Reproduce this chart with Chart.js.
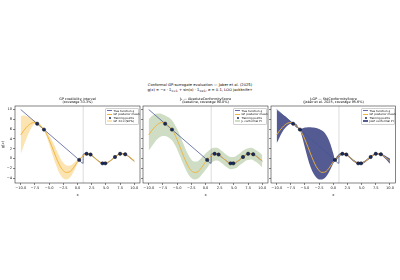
<!DOCTYPE html>
<html><head><meta charset="utf-8">
<script src="https://cdn.jsdelivr.net/npm/chart.js@4"></script>
<style>
html,body{margin:0;padding:0;background:#fff;}
#wrap{position:relative;width:400px;height:280px;overflow:hidden;font-family:"DejaVu Sans",sans-serif;color:#000;}
canvas{position:absolute;left:0;top:0;}
.t{position:absolute;white-space:nowrap;transform:translate(-50%,-50%);text-align:center;line-height:1;}
.leg{position:absolute;background:rgba(255,255,255,0.85);border:0.5px solid #d0d0d0;border-radius:1px;padding:0.6px 1px;box-sizing:border-box;}
.row{display:flex;align-items:center;height:3.5px;font-size:2.8px;white-space:nowrap;}
.sw{width:5px;height:2px;margin-right:1.4px;position:relative;flex:none;}
</style></head>
<body><div id="wrap"></div>
<script>
// ---------- data ----------
const xGrid = [-10,-9.5,-9,-8.5,-8,-7.5,-7.1,-6.5,-5.9,-5.5,-5,-4.5,-4,-3.5,-3,-2.5,-2,-1.5,-1,-0.5,0,0.3,0.6,1,1.5,2,2.5,3,3.5,4,4.5,5,5.5,6,6.5,7,7.5,8,8.5,9,9.5,10];
const gpMean = [4.8,5.65,6.35,6.9,7.25,7.35,7.15,6.65,5.9,5.1,3.85,2.4,0.9,-0.5,-1.7,-2.5,-2.85,-2.8,-2.35,-1.55,-0.7,-0.3,0.1,0.55,0.9,0.95,0.65,0.15,-0.4,-0.8,-1.0,-0.95,-0.7,-0.25,0.2,0.65,0.92,0.95,0.78,0.4,-0.05,-0.55];
const gpLower = [0.9,2.5,4.0,5.4,6.5,7.05,7.0,6.3,5.75,4.7,3.0,1.1,-0.7,-2.2,-3.4,-4.1,-4.3,-4.1,-3.4,-2.3,-1.1,-0.42,-0.15,0.38,0.78,0.83,0.52,0.0,-0.55,-0.93,-1.12,-1.07,-0.84,-0.39,0.08,0.52,0.8,0.83,0.66,0.25,-0.25,-0.85];
const gpUpper = [8.7,8.8,8.7,8.4,8.0,7.65,7.3,7.0,6.05,5.5,4.7,3.7,2.5,1.2,0.0,-0.9,-1.4,-1.5,-1.3,-0.8,-0.3,-0.18,0.35,0.72,1.02,1.07,0.78,0.3,-0.25,-0.67,-0.88,-0.83,-0.56,-0.11,0.32,0.78,1.04,1.07,0.9,0.55,0.15,-0.25];
const j1Lower = [1.6,2.4,3.2,3.9,4.4,4.6,4.6,4.3,3.7,3.0,1.9,0.5,-0.9,-2.2,-3.3,-4.0,-4.3,-4.2,-3.8,-3.1,-2.3,-1.9,-1.4,-0.9,-0.5,-0.4,-0.6,-1.1,-1.6,-2.0,-2.2,-2.1,-1.9,-1.4,-1.0,-0.5,-0.3,-0.2,-0.4,-0.8,-1.3,-1.8];
const j1Upper = [8.0,8.6,9.0,9.2,9.2,9.0,8.8,8.4,7.8,7.1,6.0,4.7,3.3,1.9,0.7,-0.2,-0.6,-0.6,-0.2,0.4,1.0,1.3,1.6,2.0,2.2,2.2,1.9,1.4,0.9,0.5,0.3,0.3,0.6,1.0,1.5,1.9,2.1,2.2,2.0,1.6,1.2,0.7];
const j2Lower = [3.1,4.3,5.4,6.2,6.8,7.1,7.05,6.3,5.8,4.4,2.2,0.0,-1.8,-3.1,-3.9,-4.3,-4.3,-4.0,-3.3,-2.2,-1.0,-0.45,-0.2,0.3,0.75,0.82,0.5,0.0,-0.56,-0.95,-1.12,-1.08,-0.86,-0.42,0.06,0.5,0.8,0.82,0.63,0.15,-0.4,-1.1];
const j2Upper = [9.9,9.5,9.0,8.6,8.1,7.6,7.25,7.0,6.0,6.1,6.3,6.4,6.4,6.3,6.2,6.0,5.7,5.2,4.3,2.9,1.0,-0.15,0.4,0.8,1.05,1.08,0.8,0.3,-0.24,-0.65,-0.88,-0.82,-0.54,-0.08,0.34,0.8,1.04,1.08,0.93,0.65,0.3,0.0];
const trueX = [-10,-5,0,0.99,1,1.5,2,2.5,3,3.5,4,4.5,5,5.5,6,6.5,7,7.5,8,8.5,9,9.5,10];
const trueY = [10,5,0,-0.99,0.84,1.0,0.91,0.6,0.14,-0.35,-0.76,-0.98,-0.96,-0.71,-0.28,0.22,0.66,0.94,0.99,0.8,0.41,-0.08,-0.54];
const trainX = [-7.1,-5.9,0.3,1.6,2.3,4.4,4.9,6.6,7.5,8.4];
const trainY = [7.1,5.9,-0.3,0.95,0.8,-1.0,-1.0,0.3,0.95,0.85];
const splitX = 1;
const xTicks = [-10,-7.5,-5,-2.5,0,2.5,5,7.5,10];
const yTicks = [-4,-2,0,2,4,6,8,10];
const suptitle = ["Conformal GP-surrogate evaluation — Jaber et al. (2025)",
  "g(x) = −x · 𝟙<sub>x&lt;1</sub> + sin(x) · 𝟙<sub>x≥1</sub>,  σ = 0.1,  LOO jackknife+"];
const panelTitles = [
  ["GP credibility interval","(coverage 33.3%)"],
  ["J₁ — AbsoluteConformityScore","(baseline, coverage 90.0%)"],
  ["J₂GP — StdConformityScore","(Jaber et al. 2025, coverage 95.6%)"]];
const bandLabels = ["GP ±z·σ (90%)","J₁ conformal PI","J₂GP conformal PI"];
const commonLabels = ["True function g","GP posterior mean","Training points"];

// ---------- style / layout ----------
const C = {true:"rgba(70,85,150,0.85)", mean:"#f0b23a", pt:"#1b2a5e",
  bands:["rgba(246,190,70,0.42)","rgba(130,165,100,0.38)","rgba(35,45,115,0.78)"]};
const boxes = [{l:15,r:140},{l:143,r:268},{l:271,r:396}];
const TOP=106, BOT=183, YMIN=-5.02, YMAX=10.72;
const bands = [[gpLower,gpUpper],[j1Lower,j1Upper],[j2Lower,j2Upper]];
const wrap = document.getElementById('wrap');
const pts = (xs,ys)=>xs.map((x,i)=>({x:x,y:ys[i]}));
const fmt = v => (v<0?"−":"")+Math.abs(v).toFixed(1);

function addText(html, x, y, size, extra){
  const d=document.createElement('div'); d.className='t'; d.innerHTML=html;
  d.style.left=x+'px'; d.style.top=y+'px'; d.style.fontSize=size+'px';
  if(extra) Object.assign(d.style, extra);
  wrap.appendChild(d); return d;
}
addText(suptitle[0],200,86,3.7);
addText(suptitle[1],200,91,3.7);

const boxPlugin = {id:'box', afterDraw(ch){
  const a=ch.chartArea, c=ch.ctx, xs=ch.scales.x;
  c.save(); c.strokeStyle='#bbb'; c.lineWidth=0.6;
  const vx=Math.round(xs.getPixelForValue(splitX))+0.5;
  c.restore();
  c.save(); c.strokeStyle='#333'; c.lineWidth=0.6;
  c.strokeRect(a.left,a.top,a.right-a.left,a.bottom-a.top); c.restore();
}, beforeDatasetsDraw(ch){
  const a=ch.chartArea, c=ch.ctx, xs=ch.scales.x;
  const vx=xs.getPixelForValue(splitX);
  c.save(); c.strokeStyle='rgba(190,190,190,0.9)'; c.lineWidth=0.6;
  c.beginPath(); c.moveTo(vx,a.top); c.lineTo(vx,a.bottom); c.stroke(); c.restore();
}};

boxes.forEach((b,i)=>{
  const cv=document.createElement('canvas'); cv.width=400; cv.height=280;
  cv.style.width='400px'; cv.style.height='280px'; wrap.appendChild(cv);
  const yW = i===0 ? 14 : 2, xH = 14;
  new Chart(cv,{type:'scatter',
    data:{datasets:[
      {data:pts(trainX,trainY),pointRadius:1.7,pointBackgroundColor:C.pt,pointBorderColor:'#000',pointBorderWidth:0.4,showLine:false},
      {data:pts(xGrid,gpMean),showLine:true,borderColor:C.mean,borderWidth:0.9,pointRadius:0,cubicInterpolationMode:'monotone'},
      {data:pts(trueX,trueY),showLine:true,borderColor:C.true,borderWidth:0.9,pointRadius:0,cubicInterpolationMode:'monotone'},
      {data:pts(xGrid,bands[i][1]),showLine:true,borderWidth:0,pointRadius:0,fill:'+1',backgroundColor:C.bands[i],cubicInterpolationMode:'monotone'},
      {data:pts(xGrid,bands[i][0]),showLine:true,borderWidth:0,pointRadius:0,cubicInterpolationMode:'monotone'}
    ]},
    options:{responsive:false,animation:false,devicePixelRatio:1,
      layout:{padding:{left:b.l-yW,right:400-b.r,top:TOP,bottom:280-BOT-xH}},
      plugins:{legend:{display:false},tooltip:{enabled:false},title:{display:false}},
      scales:{
        x:{type:'linear',min:-11,max:11,
          afterBuildTicks:s=>{s.ticks=xTicks.map(v=>({value:v}));},
          afterFit:s=>{s.height=xH;},
          grid:{drawOnChartArea:false,drawTicks:true,tickLength:2,color:'#333',lineWidth:0.6},
          border:{display:false},
          ticks:{callback:v=>fmt(v),font:{size:3.6,family:'DejaVu Sans'},color:'#222',padding:1,maxRotation:0,autoSkip:false},
          title:{display:true,text:'x',font:{size:3.8,family:'DejaVu Sans'},color:'#222',padding:{top:1,bottom:0}}},
        y:{type:'linear',min:YMIN,max:YMAX,
          afterBuildTicks:s=>{s.ticks=yTicks.map(v=>({value:v}));},
          afterFit:s=>{s.width=yW;},
          grid:{drawOnChartArea:false,drawTicks:true,tickLength:2,color:'#333',lineWidth:0.6},
          border:{display:false},
          ticks:{display:i===0,callback:v=>(v<0?"−":"")+Math.abs(v),font:{size:3.6,family:'DejaVu Sans'},color:'#222',padding:1},
          title:{display:i===0,text:'g(x)',font:{size:3.8,family:'DejaVu Sans'},color:'#222',padding:{top:0,bottom:1}}}
      }},
    plugins:[boxPlugin]});
  const cx=(b.l+b.r)/2;
  addText(panelTitles[i][0],cx,99.5,3.4);
  addText(panelTitles[i][1],cx,103,3.4);
  // legend
  const lg=document.createElement('div'); lg.className='leg';
  lg.style.left=(b.r-35)+'px'; lg.style.top=(TOP+1.5)+'px'; lg.style.width='33.5px';
  const labels=[...commonLabels,bandLabels[i]];
  labels.forEach((t,k)=>{
    const r=document.createElement('div'); r.className='row';
    const sw=document.createElement('span'); sw.className='sw';
    if(k===0) sw.style.cssText+='height:0;border-top:0.8px solid '+C.true;
    if(k===1) sw.style.cssText+='height:0;border-top:0.8px solid '+C.mean;
    if(k===2) sw.innerHTML='<span style="position:absolute;left:1.6px;top:-0.1px;width:2px;height:2px;border-radius:50%;background:'+C.pt+';"></span>';
    if(k===3) sw.style.cssText+='height:2px;background:'+C.bands[i];
    const tx=document.createElement('span'); tx.textContent=t;
    r.appendChild(sw); r.appendChild(tx); lg.appendChild(r);
  });
  wrap.appendChild(lg);
});
</script></body></html>
